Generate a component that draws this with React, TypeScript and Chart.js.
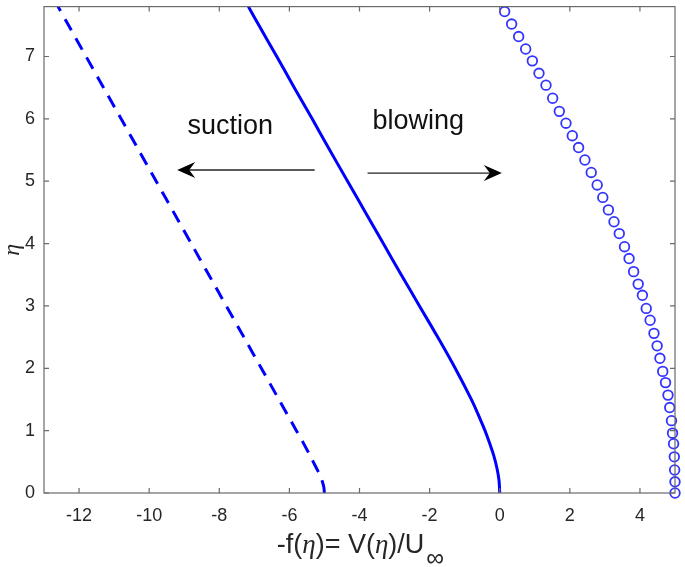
import React, { useEffect, useRef } from "react";
import { Chart, registerables } from "chart.js";

Chart.register(...registerables);

// ---- data ----
const etaSolid = [0, 0.2, 0.4, 0.6, 0.8, 1.0, 1.2, 1.5, 2.0, 2.5, 3.0, 3.5, 4.0, 4.5, 5.0, 5.5, 6.0, 6.5, 7.0, 7.5, 7.8];
const vSolid = [0, -0.02, -0.08, -0.17, -0.29, -0.42, -0.57, -0.81, -1.27, -1.77, -2.29, -2.81, -3.32, -3.83, -4.34, -4.85, -5.35, -5.86, -6.36, -6.87, -7.17];

const etaSuction = [0, 0.1, 0.2, 0.3, 0.4, 0.6, 0.8, 1.0, 1.5, 2.0, 2.5, 3.0, 3.5, 4.0, 4.5, 5.0, 5.5, 6.0, 6.5, 7.0, 7.5, 7.8];
const vSuction = [-5.0, -5.02, -5.07, -5.14, -5.23, -5.41, -5.6, -5.8, -6.3, -6.8, -7.3, -7.8, -8.3, -8.8, -9.3, -9.8, -10.3, -10.8, -11.3, -11.8, -12.3, -12.6];

const etaBlowing = [0, 0.18, 0.37, 0.58, 0.79, 0.96, 1.16, 1.37, 1.57, 1.77, 1.95, 2.16, 2.36, 2.56, 2.77, 2.96, 3.17, 3.35, 3.55, 3.76, 3.95, 4.16, 4.35, 4.54, 4.74, 4.94, 5.14, 5.34, 5.54, 5.73, 5.93, 6.12, 6.33, 6.54, 6.73, 6.93, 7.12, 7.32, 7.52, 7.72];
const vBlowing = [5.0, 5.0, 4.99, 4.98, 4.96, 4.93, 4.9, 4.85, 4.8, 4.73, 4.65, 4.57, 4.49, 4.4, 4.29, 4.18, 4.07, 3.95, 3.82, 3.69, 3.56, 3.41, 3.26, 3.1, 2.94, 2.78, 2.61, 2.43, 2.25, 2.07, 1.89, 1.7, 1.51, 1.32, 1.12, 0.93, 0.74, 0.54, 0.34, 0.14];

const xTicks = [-12, -10, -8, -6, -4, -2, 0, 2, 4];
const yTicks = [0, 1, 2, 3, 4, 5, 6, 7];
const xRange = [-13, 5];
const yRange = [0, 7.8];

// annotations in data coordinates
const suctionLabel = { text: "suction", x: -8.91, y: 5.76 };
const blowingLabel = { text: "blowing", x: -3.63, y: 5.83 };
const suctionArrow = { x0: -5.28, x1: -9.2, y: 5.18 };
const blowingArrow = { x0: -3.77, x1: 0.06, y: 5.13 };

const toPts = (xs: number[], ys: number[]) => xs.map((x, i) => ({ x: ys[i], y: x }));

const decorPlugin = {
  id: "decor",
  afterDraw(chart: any) {
    const { ctx, chartArea: ca, scales } = chart;
    const xs = scales.x, ys = scales.y;
    ctx.save();
    // box
    ctx.strokeStyle = "#6a6a6a";
    ctx.lineWidth = 1.2;
    ctx.strokeRect(ca.left, ca.top, ca.right - ca.left, ca.bottom - ca.top);
    // inward ticks
    const tl = 5;
    ctx.beginPath();
    xTicks.forEach((v) => {
      const px = xs.getPixelForValue(v);
      ctx.moveTo(px, ca.bottom); ctx.lineTo(px, ca.bottom - tl);
      ctx.moveTo(px, ca.top); ctx.lineTo(px, ca.top + tl);
    });
    yTicks.forEach((v) => {
      const py = ys.getPixelForValue(v);
      ctx.moveTo(ca.left, py); ctx.lineTo(ca.left + tl, py);
      ctx.moveTo(ca.right, py); ctx.lineTo(ca.right - tl, py);
    });
    ctx.stroke();

    // annotation texts
    ctx.fillStyle = "#111";
    ctx.font = '27px "Liberation Sans", Arial, sans-serif';
    ctx.textBaseline = "alphabetic";
    ctx.textAlign = "left";
    [suctionLabel, blowingLabel].forEach((l) => {
      ctx.fillText(l.text, xs.getPixelForValue(l.x), ys.getPixelForValue(l.y));
    });

    // arrows
    const drawArrow = (a: { x0: number; x1: number; y: number }) => {
      const px0 = xs.getPixelForValue(a.x0);
      const px1 = xs.getPixelForValue(a.x1);
      const py = ys.getPixelForValue(a.y);
      const dir = px1 > px0 ? 1 : -1;
      ctx.strokeStyle = "#222";
      ctx.lineWidth = 1.4;
      ctx.beginPath();
      ctx.moveTo(px0, py);
      ctx.lineTo(px1 - dir * 10, py);
      ctx.stroke();
      ctx.fillStyle = "#000";
      ctx.beginPath();
      ctx.moveTo(px1, py);
      ctx.lineTo(px1 - dir * 18, py - 8);
      ctx.lineTo(px1 - dir * 12, py);
      ctx.lineTo(px1 - dir * 18, py + 8);
      ctx.closePath();
      ctx.fill();
    };
    drawArrow(suctionArrow);
    drawArrow(blowingArrow);

    // x axis label: -f(η)= V(η)/U∞
    const normal = '27px "Liberation Sans", Arial, sans-serif';
    const ital = 'italic 27px "Liberation Serif", "Times New Roman", serif';
    const sub = '25px "Liberation Sans", Arial, sans-serif';
    const parts: [string, string, number][] = [
      ["-f(", normal, 0],
      ["\u03b7", ital, 0],
      [")= V(", normal, 0],
      ["\u03b7", ital, 0],
      [")/U", normal, 0],
      ["\u221e", sub, 13],
    ];
    let total = 0;
    const widths = parts.map(([t, f]) => {
      ctx.font = f;
      const w = ctx.measureText(t).width;
      total += w;
      return w;
    });
    let cx = (ca.left + ca.right) / 2 - total / 2;
    const base = 553;
    ctx.fillStyle = "#262626";
    parts.forEach(([t, f, dy], i) => {
      ctx.font = f;
      ctx.fillText(t, cx + (i === 5 ? 2 : 0), base + dy);
      cx += widths[i];
    });

    // y axis label: η (rotated)
    ctx.save();
    ctx.translate(19, (ca.top + ca.bottom) / 2);
    ctx.rotate(-Math.PI / 2);
    ctx.textAlign = "center";
    ctx.font = 'italic 24px "Liberation Serif", "Times New Roman", serif';
    ctx.fillText("\u03b7", 0, 0);
    ctx.restore();

    ctx.restore();
  },
};

export default function App() {
  const ref = useRef<HTMLCanvasElement>(null);
  useEffect(() => {
    if (!ref.current) return;
    const chart = new Chart(ref.current, {
      type: "scatter",
      data: {
        datasets: [
          {
            data: toPts(etaSolid, vSolid),
            showLine: true,
            borderColor: "#0000ff",
            borderWidth: 3,
            pointRadius: 0,
            tension: 0.4,
          },
          {
            data: toPts(etaSuction, vSuction),
            showLine: true,
            borderColor: "#0000ff",
            borderWidth: 3,
            borderDash: [13, 9],
            pointRadius: 0,
            tension: 0.3,
          },
          {
            data: toPts(etaBlowing, vBlowing),
            showLine: false,
            pointStyle: "circle",
            pointRadius: 4.8,
            pointBorderWidth: 1.8,
            pointBorderColor: "rgba(30,30,255,0.9)",
            pointBackgroundColor: "rgba(0,0,0,0)",
            clip: false as any,
          },
        ],
      },
      options: {
        animation: false,
        responsive: false,
        devicePixelRatio: 1,
        layout: { padding: { top: 3, right: 10, left: 0, bottom: 0 } },
        plugins: { legend: { display: false }, tooltip: { enabled: false } },
        scales: {
          x: {
            type: "linear",
            min: xRange[0],
            max: xRange[1],
            grid: { display: false, drawTicks: false },
            border: { display: false },
            afterBuildTicks: (s: any) => {
              s.ticks = xTicks.map((v) => ({ value: v }));
            },
            afterFit: (s: any) => {
              s.height = 74;
              s.paddingLeft = 0;
              s.paddingRight = 0;
            },
            ticks: {
              padding: 12,
              color: "#262626",
              font: { family: '"Liberation Sans", Arial, sans-serif', size: 18 },
              maxRotation: 0,
            },
          },
          y: {
            type: "linear",
            min: yRange[0],
            max: yRange[1],
            grid: { display: false, drawTicks: false },
            border: { display: false },
            afterBuildTicks: (s: any) => {
              s.ticks = yTicks.map((v) => ({ value: v }));
            },
            afterFit: (s: any) => {
              s.width = 44;
              s.paddingTop = 0;
              s.paddingBottom = 0;
            },
            ticks: {
              padding: 9,
              color: "#262626",
              font: { family: '"Liberation Sans", Arial, sans-serif', size: 18 },
            },
          },
        },
      },
      plugins: [decorPlugin],
    });
    return () => chart.destroy();
  }, []);
  return (
    <div style={{ position: "absolute", left: 0, top: 0, width: 685, height: 567, background: "#fff" }}>
      <canvas ref={ref} width={685} height={567} />
    </div>
  );
}
